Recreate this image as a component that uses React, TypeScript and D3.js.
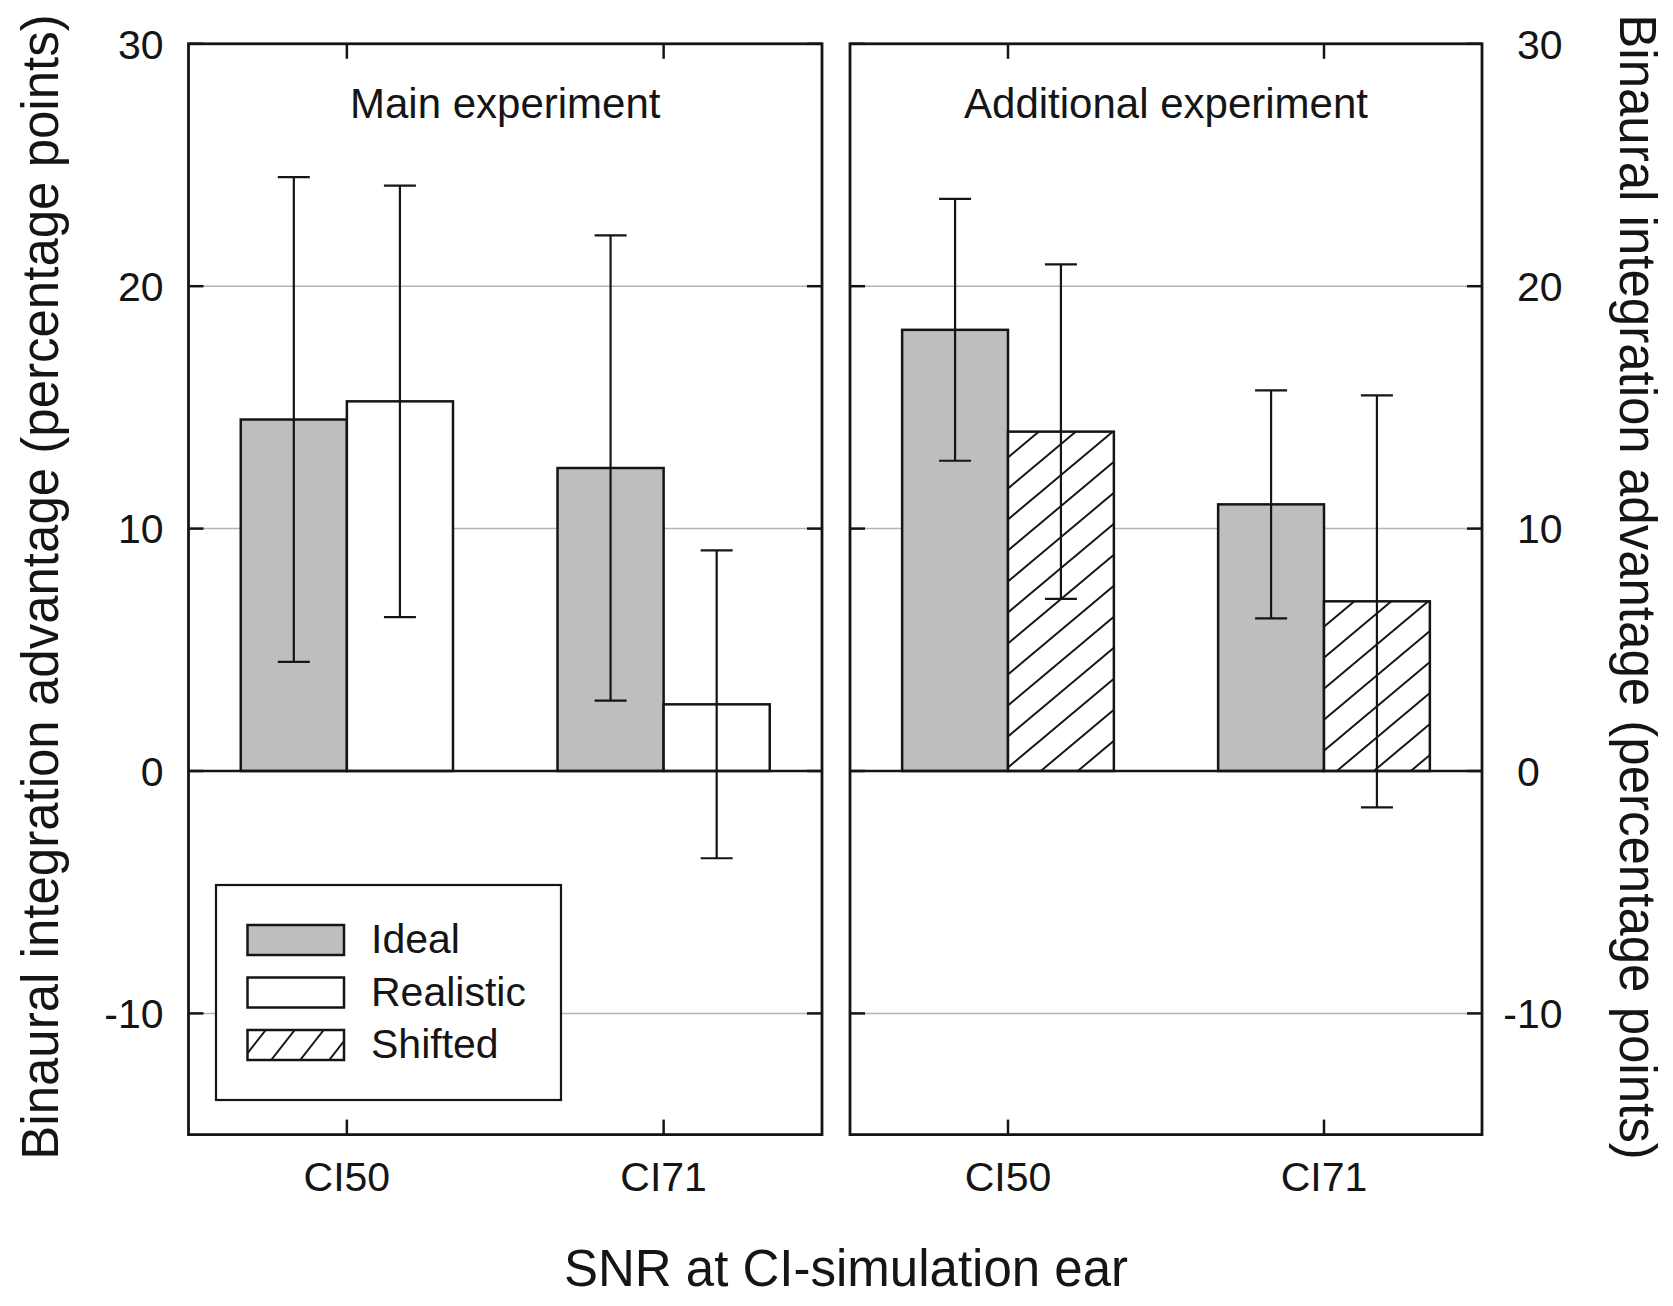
import React, { useEffect, useRef } from "react";
import * as d3 from "d3";

// conditions on the x axis
const categories = ["CI50", "CI71"];

// main experiment (mean and half-width of the error bar)
const mainIdeal = [14.5, 12.5];
const mainIdealErr = [10.0, 9.6];
const mainRealistic = [15.25, 2.75];
const mainRealisticErr = [8.9, 6.35];

// additional experiment
const addIdeal = [18.2, 11.0];
const addIdealErr = [5.4, 4.7];
const addShifted = [14.0, 7.0];
const addShiftedErr = [6.9, 8.5];

const yTicks = [30, 20, 10, 0, -10];
const gridValues = [20, 10, -10];
const legendLabels = ["Ideal", "Realistic", "Shifted"];

const panelTitles = ["Main experiment", "Additional experiment"];

type Series = { name: string; values: number[]; err: number[] };

const panelSeries: Series[][] = [
  [
    { name: "Ideal", values: mainIdeal, err: mainIdealErr },
    { name: "Realistic", values: mainRealistic, err: mainRealisticErr },
  ],
  [
    { name: "Ideal", values: addIdeal, err: addIdealErr },
    { name: "Shifted", values: addShifted, err: addShiftedErr },
  ],
];

const W = 1673;
const H = 1306;
const FONT = "'Liberation Sans', Arial, Helvetica, sans-serif";
const INK = "#151515";
const GRAY = "#bebebe";

const fillFor = (name: string) =>
  name === "Ideal" ? GRAY : name === "Realistic" ? "#ffffff" : "url(#hatch)";

export default function App() {
  const svgRef = useRef<SVGSVGElement>(null);

  useEffect(() => {
    const svg = d3.select(svgRef.current);
    svg.selectAll("*").remove();
    svg.attr("width", W).attr("height", H);

    // hatch patterns
    const defs = svg.append("defs");
    const hatch = defs
      .append("pattern")
      .attr("id", "hatch")
      .attr("patternUnits", "userSpaceOnUse")
      .attr("width", 37)
      .attr("height", 31);
    hatch.append("rect").attr("width", 37).attr("height", 31).attr("fill", "#fff");
    hatch
      .append("path")
      .attr("d", "M-37,31 L37,-31 M0,31 L37,0 M0,62 L74,0")
      .attr("stroke", INK)
      .attr("stroke-width", 2);

    const hatchLeg = defs
      .append("pattern")
      .attr("id", "hatchLeg")
      .attr("patternUnits", "userSpaceOnUse")
      .attr("width", 29)
      .attr("height", 37);
    hatchLeg.append("rect").attr("width", 29).attr("height", 37).attr("fill", "#fff");
    hatchLeg
      .append("path")
      .attr("d", "M-29,37 L29,-37 M0,37 L29,0 M0,74 L58,0")
      .attr("stroke", INK)
      .attr("stroke-width", 2);

    const y = d3.scaleLinear().domain([-15, 30]).range([1134.6, 43.8]);

    const panelX: [number, number][] = [
      [188.5, 822],
      [850, 1482],
    ];

    panelX.forEach(([x0, x1], pi) => {
      const g = svg.append("g");
      const x = d3
        .scaleBand<string>()
        .domain(categories)
        .range([x0, x1])
        .paddingInner(0.33)
        .paddingOuter(0.165);
      const series = panelSeries[pi];
      const xs = d3
        .scaleBand<string>()
        .domain(series.map((s) => s.name))
        .range([0, x.bandwidth()]);

      // grid lines
      g.selectAll("line.grid")
        .data(gridValues)
        .join("line")
        .attr("x1", x0)
        .attr("x2", x1)
        .attr("y1", (d) => y(d))
        .attr("y2", (d) => y(d))
        .attr("stroke", "#b4b4b4")
        .attr("stroke-width", 1.5);

      // bars
      series.forEach((s) => {
        g.append("g")
          .selectAll("rect")
          .data(s.values)
          .join("rect")
          .attr("x", (_, i) => x(categories[i])! + xs(s.name)!)
          .attr("y", (d) => y(Math.max(0, d)))
          .attr("width", xs.bandwidth())
          .attr("height", (d) => Math.abs(y(d) - y(0)))
          .attr("fill", fillFor(s.name))
          .attr("stroke", INK)
          .attr("stroke-width", 2.5);
      });

      // zero line
      g.append("line")
        .attr("x1", x0)
        .attr("x2", x1)
        .attr("y1", y(0))
        .attr("y2", y(0))
        .attr("stroke", INK)
        .attr("stroke-width", 2.5);

      // error bars
      const cap = 16;
      series.forEach((s) => {
        s.values.forEach((v, i) => {
          const cx = x(categories[i])! + xs(s.name)! + xs.bandwidth() / 2;
          const lo = y(v - s.err[i]);
          const hi = y(v + s.err[i]);
          const eg = g.append("g").attr("stroke", INK).attr("stroke-width", 2.2);
          eg.append("line").attr("x1", cx).attr("x2", cx).attr("y1", lo).attr("y2", hi);
          eg.append("line").attr("x1", cx - cap).attr("x2", cx + cap).attr("y1", lo).attr("y2", lo);
          eg.append("line").attr("x1", cx - cap).attr("x2", cx + cap).attr("y1", hi).attr("y2", hi);
        });
      });

      // inward ticks
      const tl = 15;
      const ticks = g.append("g").attr("stroke", INK).attr("stroke-width", 2.5);
      yTicks.forEach((t) => {
        ticks.append("line").attr("x1", x0).attr("x2", x0 + tl).attr("y1", y(t)).attr("y2", y(t));
        ticks.append("line").attr("x1", x1 - tl).attr("x2", x1).attr("y1", y(t)).attr("y2", y(t));
      });
      categories.forEach((c) => {
        const cx = x(c)! + x.bandwidth() / 2;
        ticks.append("line").attr("x1", cx).attr("x2", cx).attr("y1", y(-15)).attr("y2", y(-15) - tl);
        ticks.append("line").attr("x1", cx).attr("x2", cx).attr("y1", y(30)).attr("y2", y(30) + tl);
      });

      // frame
      g.append("rect")
        .attr("x", x0)
        .attr("y", y(30))
        .attr("width", x1 - x0)
        .attr("height", y(-15) - y(30))
        .attr("fill", "none")
        .attr("stroke", INK)
        .attr("stroke-width", 2.8);

      // panel title
      g.append("text")
        .attr("x", (x0 + x1) / 2)
        .attr("y", 118)
        .attr("text-anchor", "middle")
        .style("font-family", FONT)
        .style("font-size", "42px")
        .attr("fill", INK)
        .text(panelTitles[pi]);

      // category labels
      g.selectAll("text.cat")
        .data(categories)
        .join("text")
        .attr("x", (c) => x(c)! + x.bandwidth() / 2)
        .attr("y", 1191)
        .attr("text-anchor", "middle")
        .style("font-family", FONT)
        .style("font-size", "41px")
        .attr("fill", INK)
        .text((c) => c);

      // y tick labels
      const left = pi === 0;
      g.selectAll("text.yt")
        .data(yTicks)
        .join("text")
        .attr("x", left ? x0 - 25 : x1 + 35)
        .attr("y", (d) => y(d))
        .attr("dy", "0.36em")
        .attr("dx", (d) => (!left && d < 0 ? "-0.333em" : 0))
        .attr("text-anchor", left ? "end" : "start")
        .style("font-family", FONT)
        .style("font-size", "41px")
        .attr("fill", INK)
        .text((d) => String(d));
    });

    // legend
    const lg = svg.append("g");
    lg.append("rect")
      .attr("x", 216)
      .attr("y", 885)
      .attr("width", 345)
      .attr("height", 215)
      .attr("fill", "#fff")
      .attr("stroke", INK)
      .attr("stroke-width", 2.2);
    legendLabels.forEach((name, i) => {
      const top = 925 + i * 52.5;
      lg.append("rect")
        .attr("x", 247.5)
        .attr("y", top)
        .attr("width", 96.5)
        .attr("height", 30)
        .attr("fill", name === "Shifted" ? "url(#hatchLeg)" : fillFor(name))
        .attr("stroke", INK)
        .attr("stroke-width", 2.5);
      lg.append("text")
        .attr("x", 371)
        .attr("y", top + 28)
        .style("font-family", FONT)
        .style("font-size", "41px")
        .attr("fill", INK)
        .text(name);
    });

    // axis titles
    const yTitle = "Binaural integration advantage (percentage points)";
    svg
      .append("text")
      .attr("transform", "translate(58,587) rotate(-90)")
      .attr("text-anchor", "middle")
      .style("font-family", FONT)
      .style("font-size", "51px")
      .attr("fill", INK)
      .text(yTitle);
    svg
      .append("text")
      .attr("transform", "translate(1620,587) rotate(90)")
      .attr("text-anchor", "middle")
      .style("font-family", FONT)
      .style("font-size", "51px")
      .attr("fill", INK)
      .text(yTitle);
    svg
      .append("text")
      .attr("x", 846)
      .attr("y", 1286)
      .attr("text-anchor", "middle")
      .style("font-family", FONT)
      .style("font-size", "51px")
      .attr("fill", INK)
      .text("SNR at CI-simulation ear");
  }, []);

  return (
    <svg
      ref={svgRef}
      style={{ position: "absolute", left: 0, top: 0, background: "#fff", display: "block" }}
    ></svg>
  );
}
